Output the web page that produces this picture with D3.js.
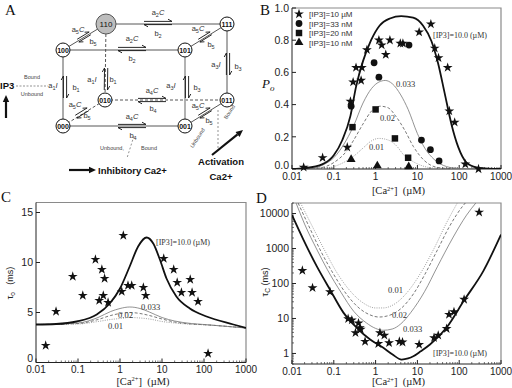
<!DOCTYPE html>
<html>
<head>
<meta charset="utf-8">
<script src="https://cdn.jsdelivr.net/npm/d3@7"></script>
<style>
  body { margin: 0; background: #fff; }
  svg { display: block; }
  text { white-space: pre; }
</style>
</head>
<body>
<svg id="fig" width="512" height="388"></svg>
<script>
// ---- shared axis data ----
const caTicks = [0.01, 0.1, 1, 10, 100, 1000];
const caTickLabels = ['0.01', '0.1', '1', '10', '100', '1000'];
const poTicks = [0, 0.2, 0.4, 0.6, 0.8, 1.0];
const poTickLabels = ['0.0', '0.2', '0.4', '0.6', '0.8', '1.0'];
const tauOTicks = [0, 5, 10, 15];
const tauCTicks = [1, 10, 100, 1000, 10000];

// ---- panel B : open probability ----
const poStars10uM = [[0.019,0.01],[0.054,0.07],[0.21,0.135],[0.25,0.42],[0.29,0.54],[0.34,0.63],[0.45,0.55],[0.47,0.63],[0.62,0.74],[1.2,0.80],[1.4,0.77],[1.75,0.71],[2.2,0.80],[3.9,0.78],[4.5,0.78],[11,0.85],[21,0.90],[26,0.75],[32,0.69],[53,0.63],[58,0.36],[78,0.29],[140,0.03],[290,0.0]];
const poCircles33nM = [[0.26,0.39],[0.92,0.66],[1.2,0.57],[6.3,0.77],[12.5,0.18],[20.5,0.12],[33,0.05]];
const poSquares20nM = [[0.28,0.26],[1.0,0.37],[2.9,0.19],[6.0,0.07]];
const poTriangles10nM = [[0.26,0.06],[1.1,0.02],[6.2,0.015]];
const poFit10 = [[0.01,0],[0.02,0.005],[0.054,0.03],[0.1,0.085],[0.16,0.18],[0.25,0.33],[0.34,0.51],[0.5,0.67],[0.78,0.80],[1.24,0.89],[2.2,0.935],[4.1,0.95],[7.9,0.94],[13.7,0.89],[21.6,0.795],[31,0.66],[45,0.47],[65,0.28],[95,0.136],[150,0.04],[260,0.01],[500,0.002],[1000,0]];
const poFit033 = [[0.01,0],[0.03,0.005],[0.06,0.03],[0.1,0.07],[0.2,0.18],[0.3,0.27],[0.5,0.41],[0.8,0.5],[1.2,0.54],[1.7,0.55],[2.5,0.53],[4,0.46],[6,0.37],[10,0.22],[15,0.13],[25,0.06],[50,0.015],[100,0.003],[1000,0]];
const poFit020 = [[0.01,0],[0.04,0.005],[0.1,0.04],[0.2,0.11],[0.3,0.18],[0.5,0.28],[0.8,0.36],[1.3,0.39],[2,0.38],[3,0.33],[5,0.24],[8,0.14],[15,0.05],[30,0.01],[100,0],[1000,0]];
const poFit010 = [[0.01,0],[0.05,0.003],[0.1,0.015],[0.2,0.05],[0.3,0.08],[0.5,0.13],[0.8,0.175],[1.2,0.19],[2,0.18],[3,0.15],[5,0.08],[8,0.045],[15,0.015],[30,0.004],[100,0],[1000,0]];
const legendNames = ['[IP3]=10 \u00b5M', '[IP3]=33 nM', '[IP3]=20 nM', '[IP3]=10 nM'];

// ---- panel C : mean open time ----
const tauOStars = [[0.017,1.7],[0.03,5.1],[0.075,8.6],[0.13,6.7],[0.26,10.3],[0.32,6.2],[0.37,9.3],[0.4,6.7],[0.43,8.4],[0.52,6.0],[1.1,7.1],[1.2,12.7],[1.55,7.7],[1.9,7.7],[3.6,7.5],[4.1,6.7],[11,10.4],[19,9.3],[23,8.0],[29,7.0],[47,8.3],[52,7.0],[72,6.1],[125,0.9]];
const tauOFit10 = [[0.01,3.8],[0.03,3.85],[0.093,4.1],[0.28,4.8],[0.57,5.9],[1.0,7.4],[1.7,9.6],[2.7,11.6],[4.3,12.5],[6.2,11.9],[8.9,10.3],[12.8,8.4],[22,6.6],[46,5.4],[115,4.6],[500,3.8],[1000,3.45]];
const tauOFit033 = [[0.01,3.8],[0.1,3.95],[0.3,4.5],[0.6,5.1],[1.0,5.4],[1.7,5.55],[3,5.4],[5,5.05],[10,4.5],[20,4.15],[50,3.9],[100,3.8],[1000,3.45]];
const tauOFit020 = [[0.01,3.8],[0.1,3.9],[0.3,4.3],[0.6,4.7],[1,4.9],[1.7,5.0],[3,4.9],[5,4.7],[10,4.35],[20,4.05],[50,3.85],[100,3.78],[1000,3.45]];
const tauOFit010 = [[0.01,3.8],[0.1,3.85],[0.3,4.1],[0.6,4.3],[1,4.4],[1.7,4.5],[3,4.45],[5,4.35],[10,4.1],[20,3.95],[50,3.82],[100,3.77],[1000,3.45]];

// ---- panel D : mean closed time ----
const tauCStars = [[0.0177,235],[0.031,75],[0.081,58],[0.22,9.8],[0.27,9.0],[0.33,3.9],[0.39,7.4],[0.42,5.4],[0.44,4.9],[0.56,2.2],[1.16,1.9],[1.27,3.9],[1.62,3.3],[2.1,2.0],[3.7,2.2],[4.4,2.1],[11,1.8],[25,2.8],[31.5,3.3],[50,5.1],[57,13],[75,15.5],[131,35],[300,10900]];
const tauCFit10 = [[0.01,9000],[0.0187,1800],[0.039,313],[0.081,67],[0.17,14.7],[0.35,5.5],[0.74,2.5],[1.53,1.45],[2.5,0.95],[4.2,0.67],[6,0.72],[8,0.83],[12,1.15],[20,1.8],[50,5.5],[131,33],[380,230],[1000,2500]];
const tauCFit033 = [[0.0125,20000],[0.02,5000],[0.04,900],[0.07,250],[0.15,55],[0.3,16],[0.6,7.5],[1,5.2],[1.5,4.6],[2.5,5],[4,7],[7,15],[15,60],[30,300],[70,2000],[150,9000],[250,20000]];
const tauCFit020 = [[0.014,20000],[0.025,4500],[0.05,800],[0.1,180],[0.2,50],[0.4,20],[0.7,13],[1.2,11],[2,12],[4,19],[8,50],[15,180],[30,900],[60,4500],[120,16000],[140,20000]];
const tauCFit010 = [[0.016,20000],[0.03,4500],[0.06,900],[0.12,200],[0.25,60],[0.5,28],[1,20],[1.5,20],[3,27],[6,60],[12,200],[25,1000],[50,5500],[90,20000]];

// ---- panel A : eight state scheme ----
const states = ['000', '001', '010', '011', '100', '101', '110', '111'];
const transitions = [
  ['110', '111', 'a2C', 'b2'], ['100', '101', 'a2C', 'b2'],
  ['010', '011', 'a4C', 'b4'], ['000', '001', 'a4C', 'b4'],
  ['100', '110', 'a5C', 'b5'], ['101', '111', 'a5C', 'b5'],
  ['000', '010', 'a5C', 'b5'], ['001', '011', 'a5C', 'b5'],
  ['000', '100', 'a1I', 'b1'], ['010', '110', 'a1I', 'b1'],
  ['001', '101', 'a3I', 'b3'], ['011', '111', 'a3I', 'b3']
];

// layout of the scheme (drawing positions, not data)
const nodeXY = {
  '110': [106, 24], '111': [227, 24], '100': [63, 50], '101': [185, 50],
  '010': [105, 100], '011': [227, 100], '000': [63, 126], '001': [185, 126]
};
const edgeStyle = {
  '110-010': 'dash', '010-011': 'dash', '000-010': 'dash', '101-001': 'grey'
};
// arrow centre, arrow length, forward label pos, backward label pos
const arrowLayout = [
  [[158, 23], 28, [158, 15], [158, 36]],
  [[132, 49], 28, [132, 41], [132, 61]],
  [[152, 100], 28, [152, 93], [153, 111]],
  [[132, 126], 28, [132, 119], [133, 138]],
  [[84, 37], 14, [78, 32], [93, 44]],
  [[205, 37], 14, [198, 31], [211, 47]],
  [[82, 113], 14, [75, 107], [87, 118]],
  [[205, 113], 14, [198, 108], [209, 123]],
  [[65, 87], 22, [53, 88], [76, 90]],
  [[106, 79], 22, [92, 82], [113, 82]],
  [[187, 87], 22, [171, 88], [197, 90]],
  [[228, 64], 22, [216, 67], [238, 69]]
];

const svg = d3.select('#fig');
const sans = 'Liberation Sans, Arial, sans-serif';
const serif = 'Liberation Serif, Times New Roman, serif';

function panelLetter(t, x, y) {
  svg.append('text').attr('x', x).attr('y', y).text(t)
    .style('font-family', serif).style('font-size', '15px').style('fill', '#111');
}

// generic framed plot with log Ca axis
function makePlot(cfg) {
  const g = svg.append('g');
  const x = d3.scaleLog().domain([0.01, 1000]).range([cfg.left, cfg.right]);
  const y = cfg.yLog
    ? d3.scaleLog().domain(cfg.yDomain).range([cfg.bottom, cfg.top])
    : d3.scaleLinear().domain(cfg.yDomain).range([cfg.bottom, cfg.top]);

  const clipId = 'clip' + cfg.id;
  g.append('clipPath').attr('id', clipId).append('rect')
    .attr('x', cfg.left).attr('y', cfg.top)
    .attr('width', cfg.right - cfg.left).attr('height', cfg.bottom - cfg.top);

  // frame: light top/right, dark left/bottom
  g.append('path')
    .attr('d', `M${cfg.left},${cfg.top}H${cfg.right}V${cfg.bottom}`)
    .attr('fill', 'none').attr('stroke', '#8a8a8a').attr('stroke-width', 1.2);
  g.append('path')
    .attr('d', `M${cfg.left},${cfg.top}V${cfg.bottom}H${cfg.right}`)
    .attr('fill', 'none').attr('stroke', '#222').attr('stroke-width', 1);

  // x ticks (inward)
  const xMinor = x.ticks().filter(v => !caTicks.some(t => Math.abs(t - v) / t < 1e-6));
  g.selectAll(null).data(xMinor).join('line')
    .attr('x1', d => x(d)).attr('x2', d => x(d))
    .attr('y1', cfg.bottom).attr('y2', cfg.bottom - 2)
    .attr('stroke', '#333').attr('stroke-width', 0.7);
  g.selectAll(null).data(caTicks).join('line')
    .attr('x1', d => x(d)).attr('x2', d => x(d))
    .attr('y1', cfg.bottom).attr('y2', cfg.bottom - 4)
    .attr('stroke', '#222');
  g.selectAll(null).data(caTicks).join('text')
    .attr('x', d => x(d)).attr('y', cfg.bottom + 10.5)
    .attr('text-anchor', 'middle').text((d, i) => caTickLabels[i])
    .style('font-family', sans).style('font-size', '10px').style('fill', '#222');

  // y ticks
  if (cfg.yLog) {
    const yMinor = y.ticks().filter(v => !cfg.yTicks.some(t => Math.abs(t - v) / t < 1e-6));
    g.selectAll(null).data(yMinor).join('line')
      .attr('x1', cfg.left).attr('x2', cfg.left + 2)
      .attr('y1', d => y(d)).attr('y2', d => y(d))
      .attr('stroke', '#333').attr('stroke-width', 0.7);
  }
  g.selectAll(null).data(cfg.yTicks).join('line')
    .attr('x1', cfg.left).attr('x2', cfg.left + 4)
    .attr('y1', d => y(d)).attr('y2', d => y(d))
    .attr('stroke', '#222');
  g.selectAll(null).data(cfg.yTicks).join('text')
    .attr('x', cfg.left - 3).attr('y', (d, i) => y(d) + (i === 0 && !cfg.yLog ? -0.5 : 3.8))
    .attr('text-anchor', 'end').text((d, i) => cfg.yLabels[i])
    .style('font-family', sans).style('font-size', '10.5px').style('fill', '#222');

  // x title  [Ca2+]  (µM)
  const xt = g.append('text').attr('x', (cfg.left + cfg.right) / 2 + 2).attr('y', cfg.bottom + cfg.titleGap)
    .attr('text-anchor', 'middle')
    .style('font-family', serif).style('font-size', '10.5px').style('fill', '#222');
  xt.append('tspan').text('[Ca');
  xt.append('tspan').attr('dy', -3.5).style('font-size', '6.5px').text('2+');
  xt.append('tspan').attr('dy', 3.5).text(']  (\u00b5M)');

  const plot = g.append('g').attr('clip-path', `url(#${clipId})`);
  return { g, plot, x, y };
}

const lineStyles = {
  fit10: { w: 1.8, c: '#111', dash: null },
  fit033: { w: 0.8, c: '#777', dash: null },
  fit020: { w: 0.8, c: '#555', dash: '3,2' },
  fit010: { w: 0.8, c: '#888', dash: '1,1.3' }
};

function drawFits(p, fits) {
  const line = d3.line().x(d => p.x(d[0])).y(d => p.y(d[1])).curve(d3.curveMonotoneX);
  fits.forEach(([data, key]) => {
    const s = lineStyles[key];
    p.plot.append('path').datum(data).attr('d', line)
      .attr('fill', 'none').attr('stroke', s.c).attr('stroke-width', s.w)
      .attr('stroke-dasharray', s.dash);
  });
}

function drawSymbols(p, data, type, size) {
  p.g.selectAll(null).data(data).join('path')
    .attr('transform', d => `translate(${p.x(d[0])},${p.y(d[1])})`)
    .attr('d', d3.symbol().type(type).size(size))
    .attr('fill', '#111');
}

function fitLabel(p, t, x, y, size) {
  p.g.append('text').attr('x', x).attr('y', y).text(t)
    .style('font-family', serif).style('font-size', (size || 8.5) + 'px').style('fill', '#333');
}

const starSize = 30;

// ================= Panel B =================
const pB = makePlot({ id: 'B', left: 292, right: 501, top: 8, bottom: 169, titleGap: 25,
  yDomain: [0, 1], yTicks: poTicks, yLabels: poTickLabels });
drawFits(pB, [[poFit010, 'fit010'], [poFit020, 'fit020'], [poFit033, 'fit033'], [poFit10, 'fit10']]);
drawSymbols(pB, poStars10uM, d3.symbolStar, starSize);
drawSymbols(pB, poCircles33nM, d3.symbolCircle, 36);
drawSymbols(pB, poSquares20nM, d3.symbolSquare, 42);
drawSymbols(pB, poTriangles10nM, d3.symbolTriangle, 34);
fitLabel(pB, '[IP3]=10.0 (\u00b5M)', 433, 38, 8);
fitLabel(pB, '0.033', 396, 87);
fitLabel(pB, '0.02', 380, 121);
fitLabel(pB, '0.01', 369, 150);
// legend
const legTypes = [[d3.symbolStar, starSize], [d3.symbolCircle, 36], [d3.symbolSquare, 42], [d3.symbolTriangle, 34]];
legendNames.forEach((name, i) => {
  const ly = 14 + i * 9.5;
  pB.g.append('path').attr('transform', `translate(299,${ly})`)
    .attr('d', d3.symbol().type(legTypes[i][0]).size(legTypes[i][1])).attr('fill', '#111');
  pB.g.append('text').attr('x', 309).attr('y', ly + 3).text(name)
    .style('font-family', sans).style('font-size', '8px').style('fill', '#333');
});
// y title Po
const poT = svg.append('text').attr('x', 262).attr('y', 88)
  .style('font-family', serif).style('font-style', 'italic').style('font-size', '13px').style('fill', '#111');
poT.append('tspan').text('P');
poT.append('tspan').attr('dy', 3).style('font-size', '9px').text('o');
panelLetter('B', 260, 15);

// ================= Panel C =================
const pC = makePlot({ id: 'C', left: 36, right: 246, top: 202.5, bottom: 362.5, titleGap: 22,
  yDomain: [0, 16], yTicks: tauOTicks, yLabels: tauOTicks.map(String) });
drawFits(pC, [[tauOFit010, 'fit010'], [tauOFit020, 'fit020'], [tauOFit033, 'fit033'], [tauOFit10, 'fit10']]);
drawSymbols(pC, tauOStars, d3.symbolStar, starSize);
fitLabel(pC, '[IP3]=10.0 (\u00b5M)', 156, 245, 8);
fitLabel(pC, '0.033', 141, 310);
fitLabel(pC, '0.02', 118, 318);
fitLabel(pC, '0.01', 108, 329);
const toT = svg.append('text').attr('transform', 'translate(13,283) rotate(-90)')
  .attr('text-anchor', 'middle')
  .style('font-family', sans).style('font-size', '9px').style('fill', '#222');
toT.append('tspan').text('\u03c4');
toT.append('tspan').attr('dy', 2).style('font-size', '6.5px').text('o');
toT.append('tspan').attr('dy', -2).text('   (ms)');
panelLetter('C', 1, 202);

// ================= Panel D =================
const pD = makePlot({ id: 'D', left: 292, right: 501, top: 203, bottom: 364, yLog: true, titleGap: 21,
  yDomain: [0.5, 20000], yTicks: tauCTicks, yLabels: tauCTicks.map(String) });
drawFits(pD, [[tauCFit010, 'fit010'], [tauCFit020, 'fit020'], [tauCFit033, 'fit033'], [tauCFit10, 'fit10']]);
drawSymbols(pD, tauCStars, d3.symbolStar, starSize);
fitLabel(pD, '[IP3]=10.0 (\u00b5M)', 433, 356, 8);
fitLabel(pD, '0.01', 388, 293);
fitLabel(pD, '0.02', 392, 318);
fitLabel(pD, '0.033', 403, 332);
const tcT = svg.append('text').attr('transform', 'translate(268,282) rotate(-90)')
  .attr('text-anchor', 'middle')
  .style('font-family', sans).style('font-size', '9px').style('fill', '#222');
tcT.append('tspan').text('\u03c4');
tcT.append('tspan').attr('dy', 2).style('font-size', '6.5px').text('C');
tcT.append('tspan').attr('dy', -2).text(' (ms)');
panelLetter('D', 256, 203);

// ================= Panel A =================
const gA = svg.append('g');
panelLetter('A', 5, 15);

// edges between states
const cubeEdges = [
  ['110', '111'], ['100', '101'], ['000', '001'], ['010', '011'],
  ['100', '000'], ['101', '001'], ['111', '011'], ['110', '010'],
  ['110', '100'], ['111', '101'], ['011', '001'], ['000', '010']
];
cubeEdges.forEach(([a, b]) => {
  const st = edgeStyle[a + '-' + b];
  gA.append('line')
    .attr('x1', nodeXY[a][0]).attr('y1', nodeXY[a][1])
    .attr('x2', nodeXY[b][0]).attr('y2', nodeXY[b][1])
    .attr('stroke', st === 'grey' ? '#aaa' : '#444')
    .attr('stroke-width', st === 'grey' ? 1.8 : 0.9)
    .attr('stroke-dasharray', st === 'dash' ? '3,2' : null);
});

// rate label a2C -> a, sub 2, italic C
function rateLabel(t, x, y) {
  const txt = gA.append('text').attr('x', x).attr('y', y).attr('text-anchor', 'middle')
    .style('font-family', sans).style('font-size', '7.5px').style('fill', '#333');
  txt.append('tspan').text(t[0]);
  txt.append('tspan').attr('dy', 2).style('font-size', '5.5px').text(t[1]);
  if (t.length > 2) txt.append('tspan').attr('dy', -2).style('font-style', 'italic').text(t[2]);
}

// harpoon pairs
transitions.forEach((tr, i) => {
  const [a, b, fwd, back] = tr;
  const [c, len, lf, lb] = arrowLayout[i];
  const dx = nodeXY[b][0] - nodeXY[a][0], dy = nodeXY[b][1] - nodeXY[a][1];
  const n = Math.hypot(dx, dy);
  const u = [dx / n, dy / n];
  const nv = [-u[1], u[0]];
  const off = 1.6;
  const pair = [[-1, 1], [1, -1]]; // [side, direction]
  pair.forEach(([side, dir]) => {
    const ox = c[0] + side * off * nv[0], oy = c[1] + side * off * nv[1];
    const sx = ox - dir * u[0] * len / 2, sy = oy - dir * u[1] * len / 2;
    const ex = ox + dir * u[0] * len / 2, ey = oy + dir * u[1] * len / 2;
    const bx = ex - dir * u[0] * 4 + side * nv[0] * 2.2;
    const by = ey - dir * u[1] * 4 + side * nv[1] * 2.2;
    gA.append('path')
      .attr('d', `M${sx},${sy}L${ex},${ey}L${bx},${by}`)
      .attr('fill', 'none').attr('stroke', '#111').attr('stroke-width', 0.9);
  });
  rateLabel(fwd, lf[0], lf[1]);
  rateLabel(back, lb[0], lb[1]);
});

// state nodes
states.forEach(s => {
  const big = s === '110';
  gA.append('circle').attr('cx', nodeXY[s][0]).attr('cy', nodeXY[s][1])
    .attr('r', big ? 10 : 7)
    .attr('fill', big ? '#bdbdbd' : '#fff')
    .attr('stroke', big ? '#555' : '#111').attr('stroke-width', 1);
  gA.append('text').attr('x', nodeXY[s][0]).attr('y', nodeXY[s][1] + 2.5)
    .attr('text-anchor', 'middle').text(s)
    .style('font-family', sans).style('font-size', big ? '8px' : '7px')
    .style('font-weight', big ? 'normal' : 'bold').style('fill', '#111');
});

function bigArrow(x1, y1, x2, y2) {
  const dx = x2 - x1, dy = y2 - y1, n = Math.hypot(dx, dy);
  const u = [dx / n, dy / n], nv = [-u[1], u[0]];
  const hx = x2 - u[0] * 7, hy = y2 - u[1] * 7;
  gA.append('line').attr('x1', x1).attr('y1', y1).attr('x2', hx).attr('y2', hy)
    .attr('stroke', '#111').attr('stroke-width', 2.2);
  gA.append('path')
    .attr('d', `M${x2},${y2}L${hx + nv[0] * 3.2},${hy + nv[1] * 3.2}L${hx - nv[0] * 3.2},${hy - nv[1] * 3.2}Z`)
    .attr('fill', '#111');
}
function smallText(t, x, y, rot) {
  const el = gA.append('text').attr('text-anchor', 'middle').text(t)
    .style('font-family', sans).style('font-size', '5.5px').style('fill', '#444');
  if (rot) el.attr('transform', `translate(${x},${y}) rotate(${rot})`);
  else el.attr('x', x).attr('y', y);
}
function boldText(t, x, y, anchor) {
  gA.append('text').attr('x', x).attr('y', y).attr('text-anchor', anchor || 'start').text(t)
    .style('font-family', sans).style('font-size', '9.5px').style('font-weight', 'bold').style('fill', '#111');
}

// IP3 binding marker
boldText('IP3', 0, 89);
gA.append('line').attr('x1', 16).attr('y1', 86).attr('x2', 48).attr('y2', 86)
  .attr('stroke', '#666').attr('stroke-width', 0.7).attr('stroke-dasharray', '2,1.5');
smallText('Bound', 32, 79);
smallText('Unbound', 32, 96);
bigArrow(6, 118, 6, 95);

// inhibitory Ca2+ marker
gA.append('line').attr('x1', 134).attr('y1', 136).attr('x2', 127).attr('y2', 158)
  .attr('stroke', '#666').attr('stroke-width', 0.7).attr('stroke-dasharray', '2,2');
smallText('Unbound,', 112, 150);
smallText('Bound', 149, 150);
bigArrow(69, 170, 96, 170);
boldText('Inhibitory Ca2+', 98, 174);

// activation Ca2+ marker
gA.append('line').attr('x1', 218).attr('y1', 110).attr('x2', 218).attr('y2', 150)
  .attr('stroke', '#666').attr('stroke-width', 0.7).attr('stroke-dasharray', '2,2');
smallText('Unbound', 199, 139, -57);
smallText('Bound', 231, 113, -57);
bigArrow(212, 155, 243, 130);
boldText('Activation', 221, 165, 'middle');
boldText('Ca2+', 221, 180, 'middle');
</script>
</body>
</html>
